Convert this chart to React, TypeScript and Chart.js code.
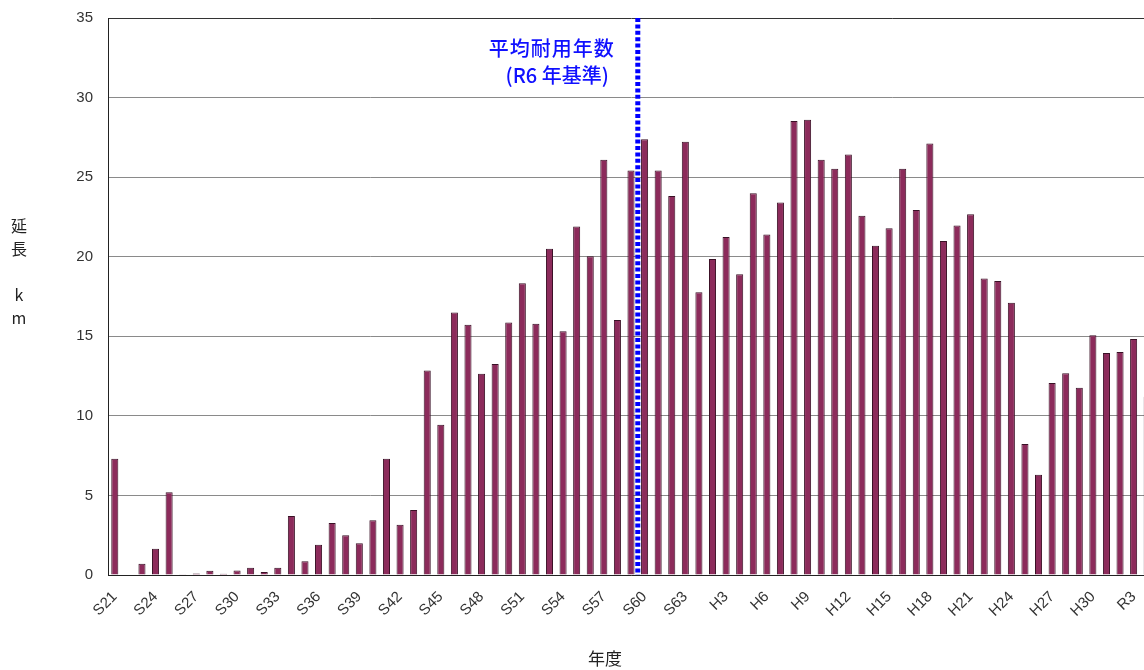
import React, { useEffect, useRef } from "react";
import { Chart, registerables } from "chart.js";

Chart.register(...registerables);

// ---- data ----
const showaYears: string[] = [];
for (let y = 21; y <= 63; y++) showaYears.push("S" + y);
const heiseiYears: string[] = [];
for (let y = 1; y <= 30; y++) heiseiYears.push("H" + y);
const reiwaYears: string[] = ["R1", "R2", "R3", "R4"];
const categories: string[] = [...showaYears, ...heiseiYears, ...reiwaYears];

const showaValues: number[] = [
  7.3, 0, 0.7, 1.65, 5.2, 0.05, 0.1, 0.27, 0.08, 0.28,
  0.46, 0.19, 0.46, 3.7, 0.86, 1.9, 3.27, 2.49, 2.0, 3.44,
  7.3, 3.16, 4.09, 12.85, 9.44, 16.5, 15.73, 12.65, 13.26, 15.86,
  18.33, 15.78, 20.5, 15.31, 21.9, 20.03, 26.1, 16.03, 25.41, 27.38,
  25.41, 23.82, 27.22,
];
const heiseiValues: number[] = [
  17.77, 19.86, 21.24, 18.9, 23.99, 21.39, 23.4, 28.52, 28.6, 26.1,
  25.52, 26.42, 22.58, 20.69, 21.79, 25.52, 22.94, 27.11, 20.99, 21.96,
  22.67, 18.63, 18.48, 17.1, 8.23, 6.3, 12.07, 12.68, 11.77, 15.06,
];
const reiwaValues: number[] = [13.95, 14.02, 14.83, 11.2];
const lengthValues: number[] = [...showaValues, ...heiseiValues, ...reiwaValues];

const yTicks: number[] = [0, 5, 10, 15, 20, 25, 30, 35];
const yTitleLines: string[] = ["延", "長", "", "k", "m"];
const xTitle = "年度";
const markerCategory = "S60"; // 平均耐用年数 boundary (left edge of this year)
const markerLines: string[] = ["平均耐用年数", "(R6 年基準)"];

const LABEL_FONT = "'Liberation Sans', Arial, sans-serif";
const JP_FONT = "'Noto Sans CJK JP', 'Noto Sans', sans-serif";

const overlayPlugin = {
  id: "overlay",
  afterDatasetsDraw(chart: any) {
    const { ctx, chartArea, scales } = chart;
    const xs = scales.x;
    const idx = categories.indexOf(markerCategory);
    const x = xs.getPixelForValue(idx - 0.5);
    ctx.save();
    ctx.strokeStyle = "#0000ff";
    ctx.lineWidth = 5;
    ctx.setLineDash([4, 2.4]);
    ctx.beginPath();
    ctx.moveTo(x, chartArea.top);
    ctx.lineTo(x, chartArea.bottom);
    ctx.stroke();
    ctx.restore();
  },
  afterDraw(chart: any) {
    const { ctx, chartArea, scales } = chart;
    const xs = scales.x;
    const idx = categories.indexOf(markerCategory);
    const x = xs.getPixelForValue(idx - 0.5);
    ctx.save();
    // marker text
    ctx.fillStyle = "#1010ff";
    ctx.font = "500 20px " + JP_FONT;
    ctx.textAlign = "right";
    ctx.textBaseline = "middle";
    try {
      (ctx as any).letterSpacing = "1px";
    } catch (e) {}
    ctx.fillText(markerLines[0], x - 23, chartArea.top + 30);
    try {
      (ctx as any).letterSpacing = "0px";
    } catch (e) {}
    ctx.fillText(markerLines[1], x - 29, chartArea.top + 57);
    // y title (stacked characters)
    ctx.fillStyle = "#222";
    ctx.font = "16px " + JP_FONT;
    ctx.textAlign = "center";
    yTitleLines.forEach((ch, i) => {
      if (ch) ctx.fillText(ch, 19, 226 + i * 23);
    });
    // x title
    ctx.font = "17px " + JP_FONT;
    ctx.fillText(xTitle, 605, 659);
    ctx.restore();
  },
};

export default function App() {
  const canvasRef = useRef<HTMLCanvasElement | null>(null);

  useEffect(() => {
    if (!canvasRef.current) return;
    const chart = new Chart(canvasRef.current, {
      type: "bar",
      data: {
        labels: categories,
        datasets: [
          {
            data: lengthValues,
            backgroundColor: "#8c2b5b",
            borderColor: "#3a1126",
            borderWidth: 1,
            categoryPercentage: 1,
            barPercentage: 0.52,
          },
        ],
      },
      options: {
        animation: false,
        responsive: true,
        maintainAspectRatio: false,
        layout: { padding: { top: 18, right: 16, left: 0, bottom: 0 } },
        plugins: {
          legend: { display: false },
          tooltip: { enabled: false },
          title: { display: false },
        },
        scales: {
          x: {
            type: "category",
            grid: { display: false, drawTicks: false },
            border: { display: true, color: "#222", width: 1 },
            ticks: {
              autoSkip: false,
              minRotation: 45,
              maxRotation: 45,
              padding: 13,
              color: "#333",
              font: { family: LABEL_FONT, size: 15 },
              callback: (_v: any, i: number) => (i % 3 === 0 ? categories[i] : ""),
            },
            afterFit: (s: any) => {
              s.height = 95;
              s.paddingLeft = 0;
              s.paddingRight = 0;
            },
          },
          y: {
            min: 0,
            max: 35,
            afterBuildTicks: (s: any) => {
              s.ticks = yTicks.map((v) => ({ value: v }));
            },
            grid: {
              drawTicks: false,
              color: (c: any) => (c.tick && c.tick.value === 35 ? "#333" : "#8a8a8a"),
              lineWidth: 1,
            },
            border: { display: true, color: "#222", width: 1 },
            ticks: {
              padding: 15,
              color: "#333",
              font: { family: LABEL_FONT, size: 15 },
            },
            afterFit: (s: any) => {
              s.width = 108;
              s.paddingTop = 0;
              s.paddingBottom = 0;
            },
          },
        },
      },
      plugins: [overlayPlugin],
    });
    return () => chart.destroy();
  }, []);

  return (
    <div
      style={{
        position: "fixed",
        left: 0,
        top: 0,
        width: 1144,
        height: 670,
        overflow: "hidden",
        background: "#fff",
      }}
    >
      <div style={{ position: "relative", width: 1170, height: 670 }}>
        <canvas ref={canvasRef} />
      </div>
    </div>
  );
}
